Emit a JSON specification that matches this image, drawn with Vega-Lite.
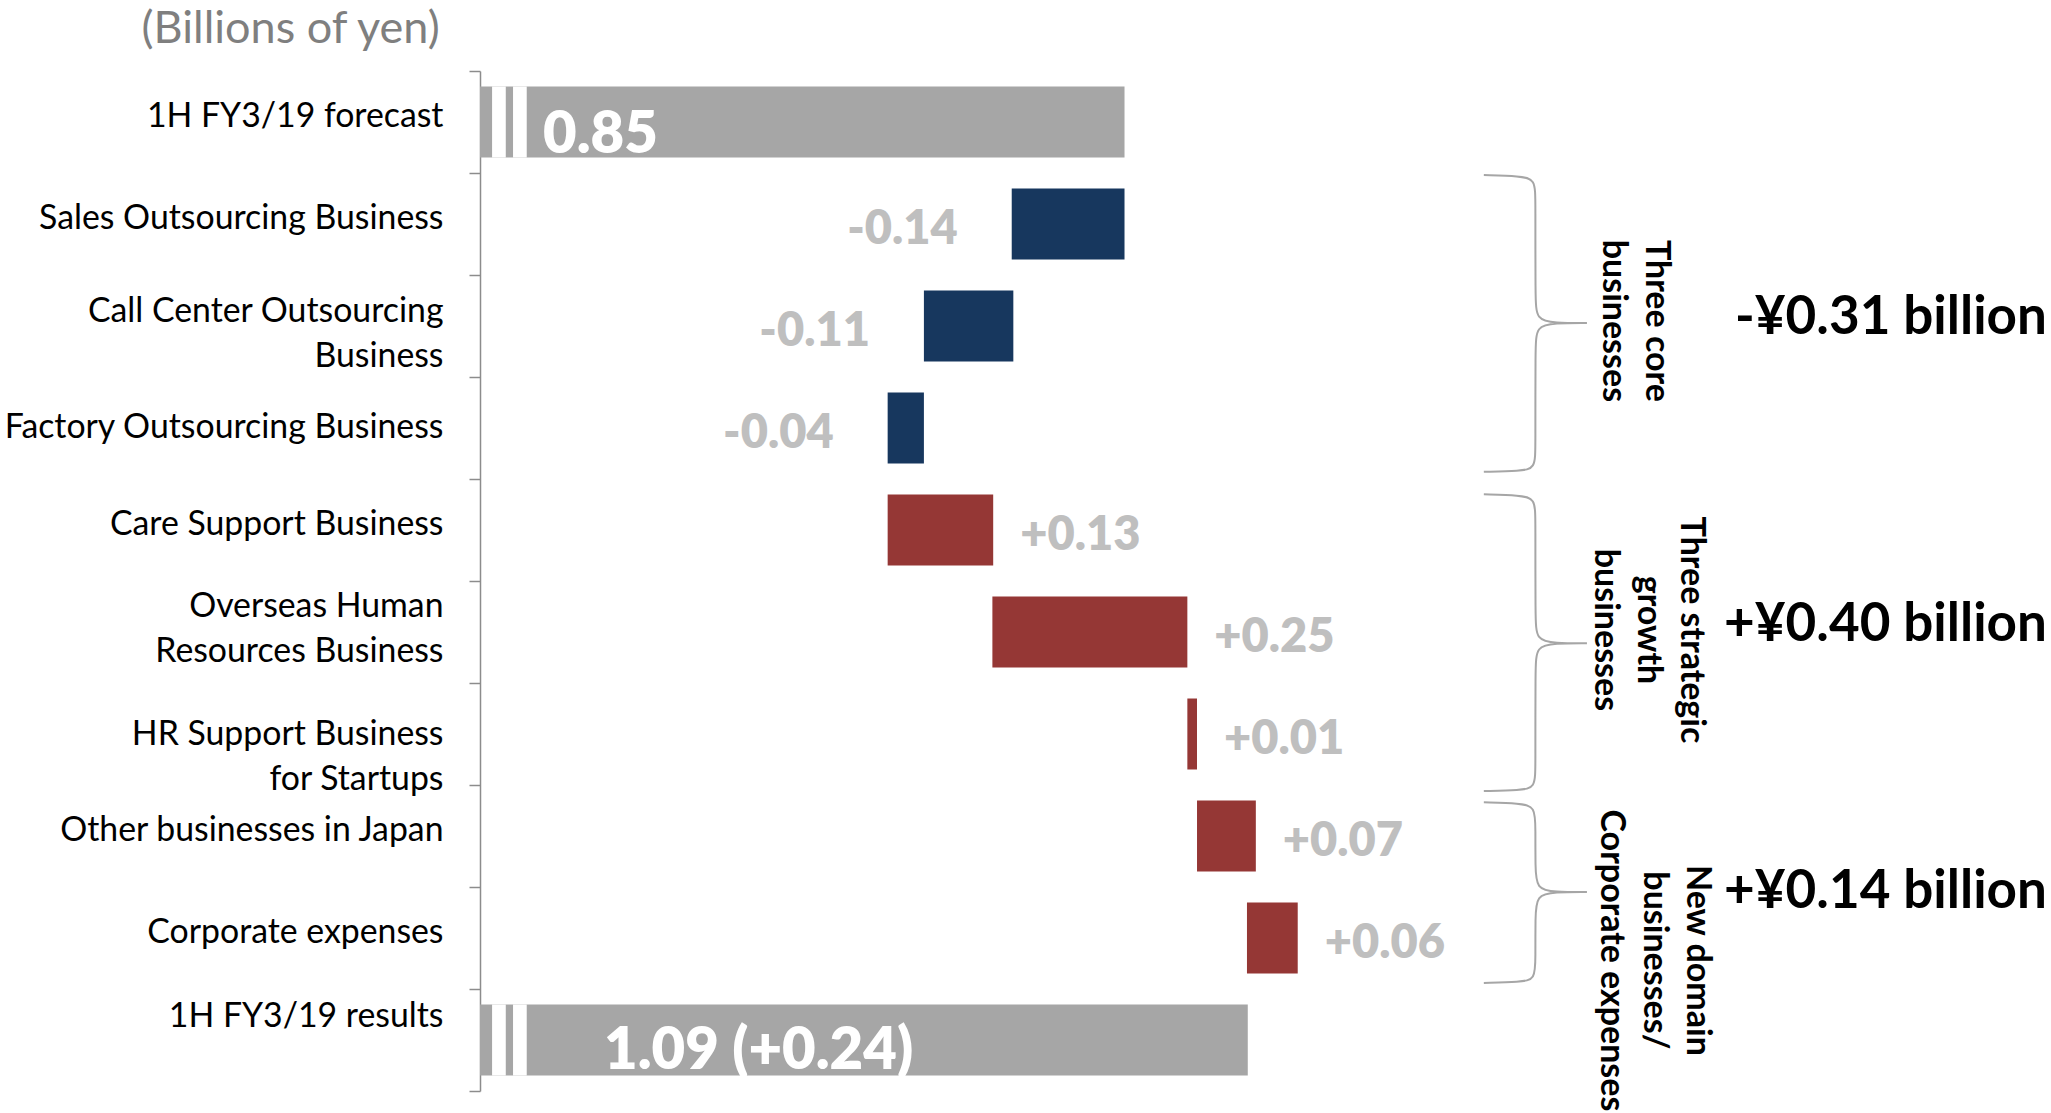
{
  "$schema": "https://vega.github.io/schema/vega-lite/v6.json",
  "width": 1571,
  "height": 1020,
  "autosize": {"type": "none"},
  "padding": {"left": 480, "top": 71, "right": 0, "bottom": 22},
  "background": "white",
  "config": {"view": {"stroke": null}, "font": "Lato"},
  "datasets": {
    "bars": [
      {"cat": "1H FY3/19 forecast", "start": 0.05, "end": 0.85, "kind": "total", "label": "0.85"},
      {"cat": "Sales Outsourcing Business", "start": 0.71, "end": 0.85, "kind": "decrease", "label": "-0.14"},
      {"cat": "Call Center Outsourcing Business", "start": 0.601, "end": 0.712, "kind": "decrease", "label": "-0.11"},
      {"cat": "Factory Outsourcing Business", "start": 0.556, "end": 0.601, "kind": "decrease", "label": "-0.04"},
      {"cat": "Care Support Business", "start": 0.556, "end": 0.687, "kind": "increase", "label": "+0.13"},
      {"cat": "Overseas Human Resources Business", "start": 0.686, "end": 0.928, "kind": "increase", "label": "+0.25"},
      {"cat": "HR Support Business for Startups", "start": 0.928, "end": 0.94, "kind": "increase", "label": "+0.01"},
      {"cat": "Other businesses in Japan", "start": 0.94, "end": 1.013, "kind": "increase", "label": "+0.07"},
      {"cat": "Corporate expenses", "start": 1.002, "end": 1.065, "kind": "increase", "label": "+0.06"},
      {"cat": "1H FY3/19 results", "start": 0.05, "end": 1.003, "kind": "total", "label": "1.09 (+0.24)"}
    ],
    "breaks": [
      {"cat": "1H FY3/19 forecast", "from": 0.065, "to": 0.082},
      {"cat": "1H FY3/19 forecast", "from": 0.091, "to": 0.108},
      {"cat": "1H FY3/19 results", "from": 0.065, "to": 0.082},
      {"cat": "1H FY3/19 results", "from": 0.091, "to": 0.108}
    ],
    "braces": [
      {"b": 1, "i": 1, "bx": 1.296, "by": 1.02},
      {"b": 1, "i": 2, "bx": 1.341, "by": 1.03},
      {"b": 1, "i": 3, "bx": 1.36, "by": 1.06},
      {"b": 1, "i": 4, "bx": 1.36, "by": 1.28},
      {"b": 1, "i": 5, "bx": 1.36, "by": 2.22},
      {"b": 1, "i": 6, "bx": 1.361, "by": 2.44},
      {"b": 1, "i": 7, "bx": 1.384, "by": 2.47},
      {"b": 1, "i": 8, "bx": 1.424, "by": 2.47},
      {"b": 1, "i": 9, "bx": 1.424, "by": 2.47},
      {"b": 1, "i": 10, "bx": 1.424, "by": 2.47},
      {"b": 1, "i": 11, "bx": 1.384, "by": 2.47},
      {"b": 1, "i": 12, "bx": 1.361, "by": 2.5},
      {"b": 1, "i": 13, "bx": 1.36, "by": 2.72},
      {"b": 1, "i": 14, "bx": 1.36, "by": 3.68},
      {"b": 1, "i": 15, "bx": 1.36, "by": 3.9},
      {"b": 1, "i": 16, "bx": 1.341, "by": 3.92},
      {"b": 1, "i": 17, "bx": 1.296, "by": 3.93},
      {"b": 2, "i": 1, "bx": 1.296, "by": 4.15},
      {"b": 2, "i": 2, "bx": 1.341, "by": 4.16},
      {"b": 2, "i": 3, "bx": 1.36, "by": 4.19},
      {"b": 2, "i": 4, "bx": 1.36, "by": 4.41},
      {"b": 2, "i": 5, "bx": 1.36, "by": 5.36},
      {"b": 2, "i": 6, "bx": 1.361, "by": 5.58},
      {"b": 2, "i": 7, "bx": 1.384, "by": 5.61},
      {"b": 2, "i": 8, "bx": 1.424, "by": 5.61},
      {"b": 2, "i": 9, "bx": 1.424, "by": 5.61},
      {"b": 2, "i": 10, "bx": 1.424, "by": 5.61},
      {"b": 2, "i": 11, "bx": 1.384, "by": 5.61},
      {"b": 2, "i": 12, "bx": 1.361, "by": 5.64},
      {"b": 2, "i": 13, "bx": 1.36, "by": 5.86},
      {"b": 2, "i": 14, "bx": 1.36, "by": 6.81},
      {"b": 2, "i": 15, "bx": 1.36, "by": 7.03},
      {"b": 2, "i": 16, "bx": 1.341, "by": 7.05},
      {"b": 2, "i": 17, "bx": 1.296, "by": 7.06},
      {"b": 3, "i": 1, "bx": 1.296, "by": 7.17},
      {"b": 3, "i": 2, "bx": 1.341, "by": 7.18},
      {"b": 3, "i": 3, "bx": 1.36, "by": 7.21},
      {"b": 3, "i": 4, "bx": 1.36, "by": 7.43},
      {"b": 3, "i": 5, "bx": 1.36, "by": 7.8},
      {"b": 3, "i": 6, "bx": 1.361, "by": 8.02},
      {"b": 3, "i": 7, "bx": 1.384, "by": 8.05},
      {"b": 3, "i": 8, "bx": 1.424, "by": 8.05},
      {"b": 3, "i": 9, "bx": 1.424, "by": 8.05},
      {"b": 3, "i": 10, "bx": 1.424, "by": 8.05},
      {"b": 3, "i": 11, "bx": 1.384, "by": 8.05},
      {"b": 3, "i": 12, "bx": 1.361, "by": 8.08},
      {"b": 3, "i": 13, "bx": 1.36, "by": 8.3},
      {"b": 3, "i": 14, "bx": 1.36, "by": 8.69},
      {"b": 3, "i": 15, "bx": 1.36, "by": 8.91},
      {"b": 3, "i": 16, "bx": 1.341, "by": 8.93},
      {"b": 3, "i": 17, "bx": 1.296, "by": 8.94}
    ],
    "groups": [
      {"t": "Three core\nbusinesses", "gx": 1.51, "gy": 2.45},
      {"t": "Three strategic\ngrowth\nbusinesses", "gx": 1.553, "gy": 5.48},
      {"t": "New domain\nbusinesses/\nCorporate expenses", "gx": 1.561, "gy": 8.72}
    ],
    "sums": [
      {"t": "-¥0.31 billion", "gx": 1.995, "gy": 2.42},
      {"t": "+¥0.40 billion", "gx": 1.995, "gy": 5.43},
      {"t": "+¥0.14 billion", "gx": 1.995, "gy": 8.05}
    ],
    "unit": [
      {"t": "(Billions of yen)", "gx": 0.0, "gy": -0.41}
    ]
  },
  "layer": [
    {
      "data": {"name": "bars"},
      "mark": {"type": "bar", "height": {"band": 0.696}},
      "encoding": {
        "y": {
          "field": "cat", "type": "nominal", "sort": null,
          "scale": {"domain": ["1H FY3/19 forecast", "Sales Outsourcing Business", "Call Center Outsourcing Business", "Factory Outsourcing Business", "Care Support Business", "Overseas Human Resources Business", "HR Support Business for Startups", "Other businesses in Japan", "Corporate expenses", "1H FY3/19 results"], "paddingInner": 0, "paddingOuter": 0},
          "axis": {
            "orient": "left",
            "title": null,
            "tickBand": "extent",
            "domainColor": "#8C8C8C",
            "domainWidth": 1.5,
            "tickColor": "#8C8C8C",
            "tickWidth": 1.5,
            "tickSize": 11,
            "labelPadding": 26,
            "labelFont": "Lato",
            "labelFontSize": 33.8,
            "labelColor": "#000000",
            "labelLimit": 0,
            "labelOffset": {
              "condition": [
                {"test": "datum.value == '1H FY3/19 results'", "value": -24},
                {"test": "datum.value == 'Call Center Outsourcing Business'", "value": -15},
                {"test": "datum.value == 'Overseas Human Resources Business'", "value": -26},
                {"test": "datum.value == 'HR Support Business for Startups'", "value": 0},
                {"test": "datum.value == 'Factory Outsourcing Business'", "value": -1}
              ],
              "value": -6
            },
            "labelLineHeight": 45,
            "labelExpr": "datum.label == 'Call Center Outsourcing Business' ? ['Call Center Outsourcing', 'Business'] : datum.label == 'Overseas Human Resources Business' ? ['Overseas Human', 'Resources Business'] : datum.label == 'HR Support Business for Startups' ? ['HR Support Business', 'for Startups'] : datum.label"
          }
        },
        "x": {"field": "start", "type": "quantitative", "scale": {"domain": [0.05, 2.0], "zero": false, "nice": false}, "axis": null},
        "x2": {"field": "end"},
        "color": {"field": "kind", "type": "nominal", "scale": {"domain": ["total", "decrease", "increase"], "range": ["#A6A6A6", "#17375E", "#953735"]}, "legend": null}
      }
    },
    {
      "data": {"name": "breaks"},
      "mark": {"type": "bar", "color": "#FFFFFF", "height": {"band": 0.696}},
      "encoding": {
        "y": {
          "field": "cat", "type": "nominal", "sort": null,
          "scale": {"domain": ["1H FY3/19 forecast", "Sales Outsourcing Business", "Call Center Outsourcing Business", "Factory Outsourcing Business", "Care Support Business", "Overseas Human Resources Business", "HR Support Business for Startups", "Other businesses in Japan", "Corporate expenses", "1H FY3/19 results"], "paddingInner": 0, "paddingOuter": 0},
          "axis": null
        },
        "x": {"field": "from", "type": "quantitative", "scale": {"domain": [0.05, 2.0], "zero": false, "nice": false}, "axis": null},
        "x2": {"field": "to"}
      }
    },
    {
      "data": {"name": "bars"},
      "transform": [{"filter": "datum.kind == 'decrease'"}],
      "mark": {"type": "text", "align": "right", "baseline": "alphabetic", "dx": -54, "dy": 20, "fontSize": 47, "fontWeight": 800, "color": "#BFBFBF", "font": "Lato"},
      "encoding": {
        "y": {
          "field": "cat", "type": "nominal", "sort": null,
          "scale": {"domain": ["1H FY3/19 forecast", "Sales Outsourcing Business", "Call Center Outsourcing Business", "Factory Outsourcing Business", "Care Support Business", "Overseas Human Resources Business", "HR Support Business for Startups", "Other businesses in Japan", "Corporate expenses", "1H FY3/19 results"], "paddingInner": 0, "paddingOuter": 0},
          "axis": null
        },
        "x": {"field": "start", "type": "quantitative", "scale": {"domain": [0.05, 2.0], "zero": false, "nice": false}, "axis": null},
        "text": {"field": "label"}
      }
    },
    {
      "data": {"name": "bars"},
      "transform": [{"filter": "datum.kind == 'increase'"}],
      "mark": {"type": "text", "align": "left", "baseline": "alphabetic", "dx": 27, "dy": 20, "fontSize": 47, "fontWeight": 800, "color": "#BFBFBF", "font": "Lato"},
      "encoding": {
        "y": {
          "field": "cat", "type": "nominal", "sort": null,
          "scale": {"domain": ["1H FY3/19 forecast", "Sales Outsourcing Business", "Call Center Outsourcing Business", "Factory Outsourcing Business", "Care Support Business", "Overseas Human Resources Business", "HR Support Business for Startups", "Other businesses in Japan", "Corporate expenses", "1H FY3/19 results"], "paddingInner": 0, "paddingOuter": 0},
          "axis": null
        },
        "x": {"field": "end", "type": "quantitative", "scale": {"domain": [0.05, 2.0], "zero": false, "nice": false}, "axis": null},
        "text": {"field": "label"}
      }
    },
    {
      "data": {"name": "bars"},
      "transform": [{"filter": "datum.cat == '1H FY3/19 forecast'"}],
      "mark": {"type": "text", "align": "left", "baseline": "alphabetic", "dx": 63, "dy": 31, "fontSize": 58, "fontWeight": 800, "color": "#FFFFFF", "font": "Lato"},
      "encoding": {
        "y": {
          "field": "cat", "type": "nominal", "sort": null,
          "scale": {"domain": ["1H FY3/19 forecast", "Sales Outsourcing Business", "Call Center Outsourcing Business", "Factory Outsourcing Business", "Care Support Business", "Overseas Human Resources Business", "HR Support Business for Startups", "Other businesses in Japan", "Corporate expenses", "1H FY3/19 results"], "paddingInner": 0, "paddingOuter": 0},
          "axis": null
        },
        "x": {"field": "start", "type": "quantitative", "scale": {"domain": [0.05, 2.0], "zero": false, "nice": false}, "axis": null},
        "text": {"field": "label"}
      }
    },
    {
      "data": {"name": "bars"},
      "transform": [{"filter": "datum.cat == '1H FY3/19 results'"}],
      "mark": {"type": "text", "align": "left", "baseline": "alphabetic", "dx": 124, "dy": 29, "fontSize": 58, "fontWeight": 800, "color": "#FFFFFF", "font": "Lato"},
      "encoding": {
        "y": {
          "field": "cat", "type": "nominal", "sort": null,
          "scale": {"domain": ["1H FY3/19 forecast", "Sales Outsourcing Business", "Call Center Outsourcing Business", "Factory Outsourcing Business", "Care Support Business", "Overseas Human Resources Business", "HR Support Business for Startups", "Other businesses in Japan", "Corporate expenses", "1H FY3/19 results"], "paddingInner": 0, "paddingOuter": 0},
          "axis": null
        },
        "x": {"field": "start", "type": "quantitative", "scale": {"domain": [0.05, 2.0], "zero": false, "nice": false}, "axis": null},
        "text": {"field": "label"}
      }
    },
    {
      "data": {"name": "braces"},
      "mark": {"type": "line", "interpolate": "basis", "color": "#A6A6A6", "strokeWidth": 2},
      "encoding": {
        "x": {"field": "bx", "type": "quantitative", "scale": {"domain": [0.05, 2.0], "zero": false, "nice": false}, "axis": null},
        "y": {"field": "by", "type": "quantitative", "scale": {"domain": [0, 10], "reverse": true, "zero": false, "nice": false}, "axis": null},
        "detail": {"field": "b", "type": "nominal"},
        "order": {"field": "i", "type": "quantitative"}
      }
    },
    {
      "data": {"name": "groups"},
      "mark": {"type": "text", "angle": 90, "align": "center", "baseline": "middle", "lineBreak": "\n", "lineHeight": 43, "fontSize": 34, "fontWeight": "bold", "color": "#000000", "font": "Lato"},
      "encoding": {
        "x": {"field": "gx", "type": "quantitative", "scale": {"domain": [0.05, 2.0], "zero": false, "nice": false}, "axis": null},
        "y": {"field": "gy", "type": "quantitative", "scale": {"domain": [0, 10], "reverse": true, "zero": false, "nice": false}, "axis": null},
        "text": {"field": "t"}
      }
    },
    {
      "data": {"name": "sums"},
      "mark": {"type": "text", "align": "right", "baseline": "middle", "fontSize": 53, "fontWeight": "bold", "color": "#000000", "font": "Lato"},
      "encoding": {
        "x": {"field": "gx", "type": "quantitative", "scale": {"domain": [0.05, 2.0], "zero": false, "nice": false}, "axis": null},
        "y": {"field": "gy", "type": "quantitative", "scale": {"domain": [0, 10], "reverse": true, "zero": false, "nice": false}, "axis": null},
        "text": {"field": "t"}
      }
    },
    {
      "data": {"name": "unit"},
      "mark": {"type": "text", "align": "right", "baseline": "middle", "fontSize": 45, "fontWeight": "normal", "color": "#7F7F7F", "font": "Lato"},
      "encoding": {
        "x": {"field": "gx", "type": "quantitative", "scale": {"domain": [0.05, 2.0], "zero": false, "nice": false}, "axis": null},
        "y": {"field": "gy", "type": "quantitative", "scale": {"domain": [0, 10], "reverse": true, "zero": false, "nice": false}, "axis": null},
        "text": {"field": "t"}
      }
    }
  ],
  "resolve": {"scale": {"y": "independent"}, "axis": {"y": "independent"}}
}
